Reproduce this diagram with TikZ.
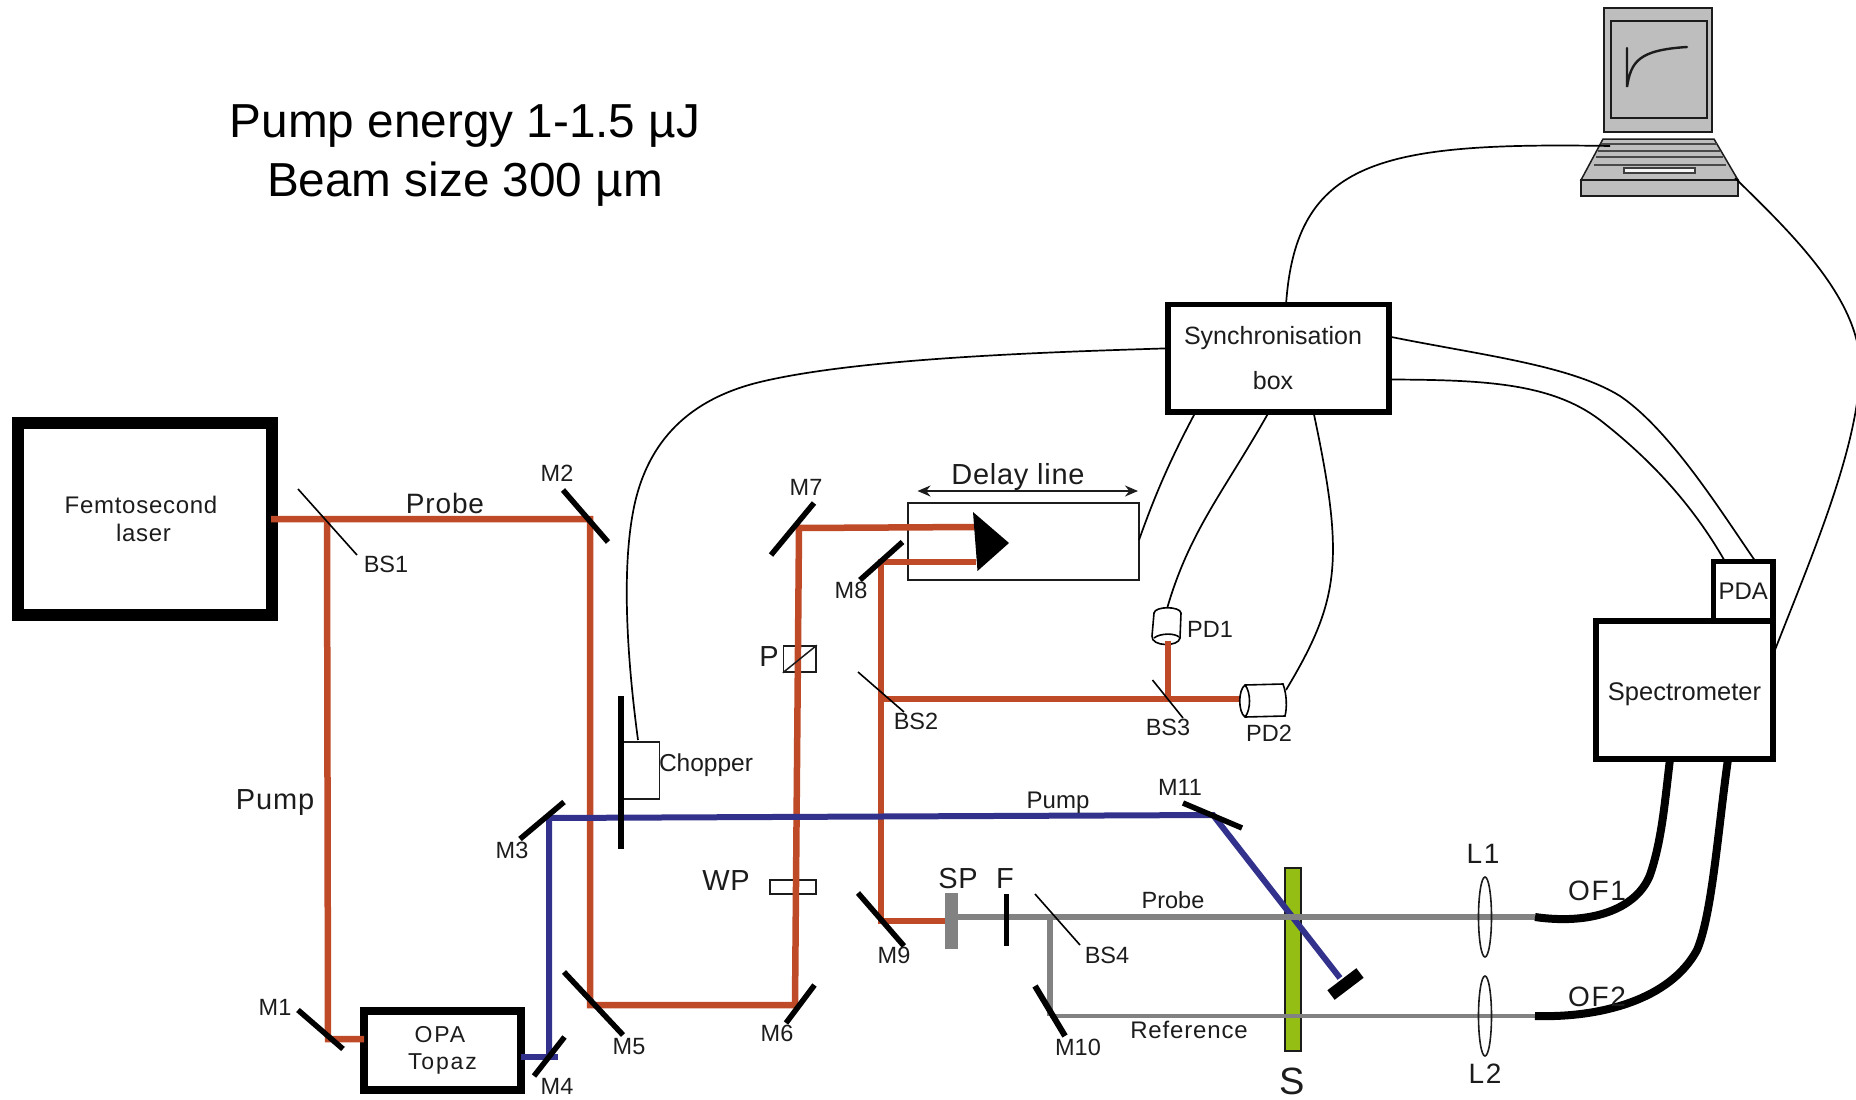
\documentclass[tikz,border=0pt]{standalone}
\usepackage{fontspec}
\setmainfont{Liberation Sans}
\usetikzlibrary{arrows.meta}
\definecolor{ink}{RGB}{28,28,28}
\definecolor{beamO}{RGB}{190,74,40}
\definecolor{beamB}{RGB}{50,50,140}
\definecolor{beamG}{RGB}{130,130,130}
\definecolor{sampleG}{RGB}{148,190,20}
\definecolor{pcgray}{RGB}{190,190,190}
\newcommand{\spaced}[1]{\addfontfeature{LetterSpace=#1}}
\tikzset{
  orange beam/.style={draw=beamO,line width=6.5pt},
  blue beam/.style={draw=beamB,line width=6pt},
  gray beam/.style={draw=beamG,line width=5.5pt},
  mirror/.style={draw=black,line width=5.5pt},
  splitter/.style={draw=black,line width=1.6pt},
  cable/.style={draw=black,line width=1.7pt},
  fibre/.style={draw=black,line width=8pt},
  thin part/.style={draw=ink,line width=1.5pt},
  boxnode/.style={draw=black,rectangle,inner sep=0pt,outer sep=0pt,align=center,text=ink},
  lab/.style={inner sep=0pt,text=ink,font=\fontsize{23.5}{26}\selectfont},
  labm/.style={lab,font=\fontsize{29}{30}\selectfont\spaced{2}},
  labw/.style={lab,font=\fontsize{28}{30}\selectfont\spaced{6}},
  big/.style={inner sep=0pt,text=black,font=\fontsize{47.7}{50}\selectfont},
  lensshape/.style={draw=ink,line width=1.6pt},
  pdshape/.style={draw=black,line width=1.6pt,fill=white}
}
\begin{document}
\begin{tikzpicture}[x=1pt,y=-1pt]
\useasboundingbox (0,0) rectangle (1856,1100);
% beam way-points
\coordinate (hBS1) at (327,519);
\coordinate (laserOut) at (271,519);
\coordinate (hM2) at (590,519);
\coordinate (hM5) at (590,1005);
\coordinate (hM6) at (795,1005);
\coordinate (hM7) at (799,528);
\coordinate (hM1) at (328,1039);
\coordinate (prismA) at (976,527);
\coordinate (prismB) at (976,562);
\coordinate (hM8) at (881,562);
\coordinate (hBS2) at (881,699);
\coordinate (hBS3) at (1168,699);
\coordinate (hM9) at (881,921);
\coordinate (hM4) at (549,1057);
\coordinate (hM4e) at (558,1057);
\coordinate (hM3) at (549,818);
\coordinate (hM11) at (1213,815);
\coordinate (hBlock) at (1340,978);
\coordinate (hBS4) at (1050,917);
\coordinate (hM10) at (1050,1016);
\coordinate (fibreA) at (1535,917);
\coordinate (fibreB) at (1535,1016);
% delay stage
\draw[thin part] (908,503) rectangle (1139,580);
% sample
\node[draw=ink,line width=1.5pt,fill=sampleG,minimum width=16pt,minimum height=183pt,inner sep=0pt] (sample) at (1293,959.5) {};
% boxes
\node[boxnode,line width=12pt,minimum width=254pt,minimum height=192pt,font=\fontsize{24}{28}\selectfont] (laser) at (145,519) {\spaced{3}Femtosecond\hspace*{8pt}\\\spaced{3}laser\hspace*{3pt}};
\node[boxnode,line width=8pt,minimum width=157pt,minimum height=79pt,font=\fontsize{23}{27}\selectfont] (opa) at (442.5,1050.5) {\spaced{8}OPA\hspace*{5pt}\\\spaced{8}Topaz};
\node[boxnode,line width=5.5pt,minimum width=221pt,minimum height=107.5pt,font=\fontsize{25}{45}\selectfont] (sync) at (1278.5,358) {Synchronisation\hspace*{11pt}\\box\hspace*{11pt}};
\node[boxnode,line width=5.5pt,minimum width=177pt,minimum height=138pt,font=\fontsize{25.5}{28}\selectfont] (spec) at (1684.5,690) {\rule{0pt}{26pt}Spectrometer};
\node[boxnode,line width=5.5pt,minimum width=59.5pt,minimum height=59.5pt,font=\fontsize{24}{26}\selectfont] (pda) at (1743.2,591.2) {PDA};
% sample-side parts
\node[draw=ink,line width=1.5pt,minimum width=38.5pt,minimum height=57pt,inner sep=0pt] (chopbox) at (640.2,770.5) {};
\node[draw=ink,line width=1.5pt,minimum width=46pt,minimum height=14pt,inner sep=0pt] (wp) at (793,887) {};
\node[draw=ink,line width=1.5pt,minimum width=32.5pt,minimum height=26pt,inner sep=0pt] (pol) at (799.8,659) {};
% beams
\draw[orange beam] (laserOut) -- (hM2) -- (hM5) -- (hM6) -- (hM7) -- (prismA);
\draw[orange beam] (hBS1) -- (hM1) -- (opa.west |- hM1);
\draw[orange beam,line width=5.5pt] (prismB) -- (hM8) -- (hM9) -- (945,921);
\draw[orange beam] (hBS2) -- (hBS3) -- (1240,699);
\draw[orange beam] (hBS3) -- (1168,642);
\draw[blue beam] (opa.east |- hM4) -- (hM4e);
\draw[blue beam] (hM4) -- (hM3) -- (hM11) -- (hBlock);
\draw[gray beam] (958,917) -- (fibreA);
\draw[gray beam] (hBS4) -- (hM10);
\draw[gray beam,line width=4.5pt] (hM10) -- (fibreB);
\draw[thin part] (pol.south west) -- (pol.north east);
% mirrors
\draw[mirror] (298,1010) -- (343,1049);
\draw[mirror] (563,490) -- (608,542);
\draw[mirror] (564,802) -- (520,839);
\draw[mirror] (564.5,1037) -- (534,1076);
\draw[mirror] (564,972) -- (623,1035);
\draw[mirror] (814.5,985) -- (786,1023);
\draw[mirror] (814,503) -- (771,555);
\draw[mirror] (902.5,542) -- (860,580);
\draw[mirror] (858,893) -- (904,946);
\draw[mirror,line width=6pt] (1035,986) -- (1065,1036);
\draw[mirror] (1183,803) -- (1242,828);
\draw[mirror,line width=12pt] (1331,995) -- (1360,973);
\draw[mirror,line width=5pt] (1006,894) -- (1006,946);
\draw[mirror,line width=6pt] (621,696) -- (621,849);
\fill[beamG] (945,893) rectangle (958,949);
% beam splitters
\draw[splitter] (298,489) -- (357,555);
\draw[splitter] (858,672) -- (904,712);
\draw[splitter] (1152.5,680) -- (1183,718);
\draw[splitter] (1035,894) -- (1080,945);
% prism and delay arrow
\fill[black] (973,512) -- (1009,543) -- (977.5,571) -- cycle;
\draw[thin part,{Stealth[length=13pt,width=11pt]}-{Stealth[length=13pt,width=11pt]}] (917.5,491) -- (1138,491);
% lenses
\draw[lensshape] (1485,917) ellipse [x radius=6.5,y radius=40];
\draw[lensshape] (1485,1016) ellipse [x radius=6.5,y radius=40];
% photodiodes
\draw[pdshape] (1152,636) -- (1154,613) .. controls (1155,606) and (1180,606) .. (1181,613) -- (1180,638) .. controls (1179,647) and (1151,647) .. (1152,636) -- cycle;
\draw[line width=1.6pt] (1154,638) .. controls (1160,633) and (1175,633) .. (1179,637);
\coordinate (pdA) at (1167.5,607);
\draw[orange beam] (1168,655) -- (1168,641);
\draw[pdshape] (1245,685) -- (1283,684) .. controls (1287,695) and (1287,708) .. (1285,716) -- (1245,717) .. controls (1238,712) and (1238,690) .. (1245,685) -- cycle;
\draw[line width=1.6pt] (1245,685) .. controls (1251,692) and (1251,710) .. (1245,717);
\coordinate (pdB) at (1286,690);
% laptop
\draw[thin part,fill=pcgray] (1604,8) rectangle (1712,132);
\draw[line width=1.8pt,draw=ink] (1611,21) rectangle (1707,118);
\draw[line width=2.4pt,draw=ink,line cap=round] (1627,48) -- (1627,87) .. controls (1631,62) and (1638,50) .. (1687,47);
\draw[thin part,fill=pcgray] (1603,139) -- (1714,139) -- (1738,180) -- (1581,180) -- cycle;
\draw[thin part,fill=pcgray] (1581,180) rectangle (1738,196);
\draw[line width=2pt,draw=ink!80] (1601,144) -- (1717,144);
\draw[line width=2pt,draw=ink!80] (1598,151) -- (1720,151);
\draw[line width=2pt,draw=ink!80] (1596,157) -- (1723,157);
\draw[line width=2pt,draw=ink!80] (1594,165) -- (1726,165);
\draw[line width=1.8pt,draw=ink!85,fill=white!85!pcgray] (1624,168) rectangle (1695,173);
\coordinate (pcL) at (1610,146);
\coordinate (pcR) at (1735,178);
% cables
\draw[cable] (sync.82) .. controls (1296,160) and (1380,142) .. (pcL);
\draw[cable] (pcR) .. controls (1790,232) and (1862,300) .. (1860,370) .. controls (1858,450) and (1810,560) .. (spec.east |- 0,655);
\draw[cable] (sync.175.4) .. controls (1050,352) and (860,358) .. (760,382) .. controls (690,399) and (648,440) .. (634,507) .. controls (622,565) and (626,650) .. (638,740);
\draw[cable] (sync.11.5) .. controls (1480,355) and (1570,365) .. (1620,396) .. controls (1670,430) and (1720,510) .. (pda.north -| 1755.5,0);
\draw[cable] (sync.-11.5) .. controls (1480,380) and (1550,382) .. (1600,420) .. controls (1645,455) and (1690,500) .. (pda.north -| 1725,0);
\draw[cable] (sync.213.8) .. controls (1170,460) and (1155,495) .. (1139,540);
\draw[cable] (sync.260.4) .. controls (1225,490) and (1190,530) .. (pdA);
\draw[cable] (sync.303.8) .. controls (1345,560) and (1340,600) .. (pdB);
% fibres
\draw[fibre] (fibreA) .. controls (1590,925) and (1636,910) .. (1650,875) .. controls (1662,840) and (1665,800) .. (spec.south -| 1670,0);
\draw[fibre] (fibreB) .. controls (1600,1018) and (1670,1000) .. (1697,950) .. controls (1712,915) and (1718,830) .. (spec.south -| 1728,0);
% texts
\node[big] (tE) at (465,126) {Pump energy 1-1.5 µJ};
\node[big] (tB) at (465,184) {Beam size 300 µm};
\node[labm,font=\fontsize{28}{30}\selectfont\spaced{3}] (tProbe) at (445,503) {Probe};
\node[labm,font=\fontsize{29}{30}\selectfont\spaced{3}] (tPump) at (275,803) {Pump};
\node[lab] (tBS1) at (386,564) {BS1};
\node[lab] (tM1) at (275,1007) {M1};
\node[lab] (tM2) at (557,473) {M2};
\node[lab] (tM3) at (512,850) {M3};
\node[lab] (tM4) at (557,1086) {M4};
\node[lab] (tM5) at (629,1047) {M5};
\node[lab] (tM6) at (777,1033) {M6};
\node[lab] (tM7) at (806,487) {M7};
\node[lab] (tM8) at (851,590) {M8};
\node[lab] (tM9) at (894,955) {M9};
\node[lab] (tM10) at (1078,1047) {M10};
\node[lab] (tM11) at (1180,787) {M11};
\node[labm] (tWP) at (726,881) {WP};
\node[labm] (tP) at (769,657) {P};
\node[lab,font=\fontsize{24.5}{26}\selectfont] (tChop) at (706,765) {Chopper};
\node[lab] (tBS2) at (916,721) {BS2};
\node[lab] (tBS3) at (1168,727) {BS3};
\node[lab] (tBS4) at (1107,955) {BS4};
\node[lab] (tPD1) at (1210,629) {PD1};
\node[lab] (tPD2) at (1269,733) {PD2};
\node[labm,font=\fontsize{29}{30}\selectfont\spaced{2.5}] (tDelay) at (1018,477) {Delay line};
\node[labm] (tSP) at (958,879) {SP};
\node[labm] (tF) at (1005,879) {F};
\node[lab,font=\fontsize{24}{26}\selectfont] (tPump2) at (1058,803) {Pump};
\node[lab] (tProbe2) at (1173,900) {Probe};
\node[lab,font=\fontsize{24}{26}\selectfont\spaced{3.5}] (tRef) at (1189,1030) {Reference};
\node[labm,font=\fontsize{38}{40}\selectfont] (tS) at (1292,1081) {S};
\node[labw] (tL1) at (1483,854) {L1};
\node[labw] (tL2) at (1485,1074) {L2};
\node[labw] (tOF1) at (1597,891) {OF1};
\node[labw] (tOF2) at (1597,997) {OF2};
\end{tikzpicture}
\end{document}
